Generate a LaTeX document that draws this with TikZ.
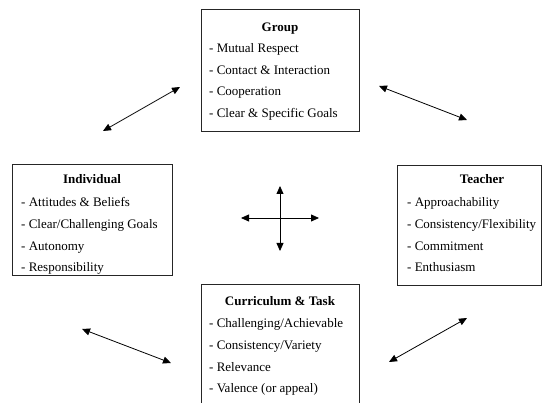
\documentclass[tikz,border=0pt]{standalone}
\usepackage{fontspec}
\setmainfont{Liberation Serif}
\usetikzlibrary{arrows.meta}
\begin{document}
\begin{tikzpicture}[x=1pt,y=-1pt,
  box/.style={draw=black!85, line width=0.9pt, rectangle, anchor=north west, inner sep=0pt, outer sep=0pt},
  item/.style={anchor=base west, inner sep=0pt, font=\fontsize{13}{15}\selectfont},
  head/.style={anchor=base, inner sep=0pt, font=\fontsize{13}{15}\selectfont\bfseries},
  biarrow/.style={{Triangle[length=8pt,width=7pt]}-{Triangle[length=8pt,width=7pt]}, line width=0.8pt}]
\useasboundingbox (0,0) rectangle (544,403);
\clip (0,0) rectangle (544,403);

% Boxes
\node[box, minimum width=158pt, minimum height=122pt] (group) at (201,9) {};
\node[box, minimum width=160pt, minimum height=111pt] (indiv) at (12,164) {};
\node[box, minimum width=144pt, minimum height=120pt] (teach) at (397,165) {};
\node[box, minimum width=158pt, minimum height=126pt] (curr) at (201,284) {};

% Group
\node[head] (gh) at (280,31.5) {Group};
\node[item] (g1) at (209,52.5) {- Mutual Respect};
\node[item] (g2) at (209,74.5) {- Contact \& Interaction};
\node[item] (g3) at (209,96) {- Cooperation};
\node[item] (g4) at (209,117.5) {- Clear \& Specific Goals};

% Individual
\node[head] (ih) at (92,184) {Individual};
\node[item] (i1) at (21,207) {- Attitudes \& Beliefs};
\node[item] (i2) at (21,228.5) {- Clear/Challenging Goals};
\node[item] (i3) at (21,250.5) {- Autonomy};
\node[item] (i4) at (21,272) {- Responsibility};

% Teacher
\node[head] (th) at (482,184) {Teacher};
\node[item] (t1) at (407,207) {- Approachability};
\node[item] (t2) at (407,228.5) {- Consistency/Flexibility};
\node[item] (t3) at (407,250.5) {- Commitment};
\node[item] (t4) at (407,272) {- Enthusiasm};

% Curriculum & Task
\node[head] (ch) at (280,306) {Curriculum \& Task};
\node[item] (c1) at (209,328) {- Challenging/Achievable};
\node[item] (c2) at (209,349.5) {- Consistency/Variety};
\node[item] (c3) at (209,372) {- Relevance};
\node[item] (c4) at (209,393) {- Valence (or appeal)};

% Arrow end points
\coordinate (ul1) at (103,131);
\coordinate (ul2) at (180,87);
\coordinate (ur1) at (379,86);
\coordinate (ur2) at (467,120);
\coordinate (ll1) at (82,329);
\coordinate (ll2) at (171,363);
\coordinate (lr1) at (389,362);
\coordinate (lr2) at (467,318);
\coordinate (cu) at (280,186);
\coordinate (cd) at (280,251);
\coordinate (cl) at (241,218);
\coordinate (cr) at (319,218);

\draw[biarrow] (ul1) -- (ul2);
\draw[biarrow] (ur1) -- (ur2);
\draw[biarrow] (ll1) -- (ll2);
\draw[biarrow] (lr1) -- (lr2);
\draw[biarrow] (cu) -- (cd);
\draw[biarrow] (cl) -- (cr);
\end{tikzpicture}
\end{document}
